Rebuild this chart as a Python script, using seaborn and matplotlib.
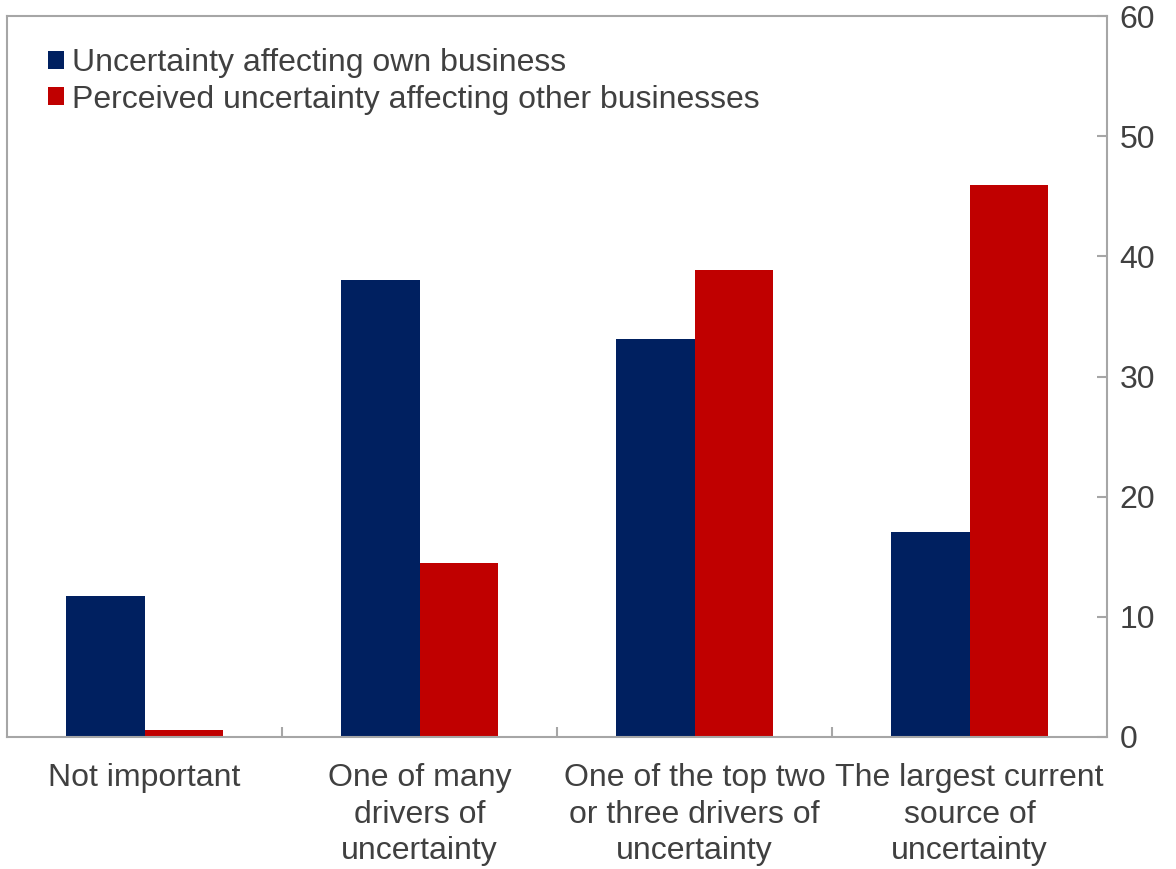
import matplotlib
matplotlib.use("Agg")
import matplotlib.pyplot as plt
import seaborn as sns
import pandas as pd

categories = [
    "Not important",
    "One of many\ndrivers of\nuncertainty",
    "One of the top two\nor three drivers of\nuncertainty",
    "The largest current\nsource of\nuncertainty",
]
series_names = [
    "Uncertainty affecting own business",
    "Perceived uncertainty affecting other businesses",
]
own_business = [11.7, 38.0, 33.1, 17.1]
other_businesses = [0.55, 14.5, 38.9, 45.9]
y_ticks = [0, 10, 20, 30, 40, 50, 60]

df = pd.DataFrame({
    "category": categories * 2,
    "series": [series_names[0]] * 4 + [series_names[1]] * 4,
    "value": own_business + other_businesses,
})

sns.set_style("white")
plt.rcParams["font.family"] = ["Liberation Sans", "DejaVu Sans"]

text_color = "#404040"
spine_color = "#A6A6A6"
font_size = 23

fig = plt.figure(figsize=(11.76, 8.69), dpi=100)
ax = fig.add_axes([7 / 1176, 1 - 737 / 869, 1100 / 1176, 721 / 869])

sns.barplot(
    data=df, x="category", y="value", hue="series",
    order=categories, hue_order=series_names,
    palette=["#002060", "#C00000"], width=0.57, gap=0,
    saturation=1, ax=ax, edgecolor="none",
)

ax.set_xlim(-0.5, 3.5)
ax.set_ylim(0, 60)
ax.set_xlabel("")
ax.set_ylabel("")

for side in ["left", "right", "top", "bottom"]:
    ax.spines[side].set_visible(True)
    ax.spines[side].set_color(spine_color)
    ax.spines[side].set_linewidth(1.5)

ax.yaxis.tick_right()
ax.set_yticks(y_ticks)
ax.set_yticklabels([str(v) for v in y_ticks])
ax.tick_params(axis="y", which="major", direction="in", length=7, width=1.5,
               color=spine_color, labelsize=font_size, labelcolor=text_color, pad=9,
               right=True, left=False)

ax.set_xticks(range(len(categories)))
ax.set_xticklabels(categories)
ax.set_xticks([0.5, 1.5, 2.5], minor=True)
ax.tick_params(axis="x", which="major", length=0, labelsize=font_size,
               labelcolor=text_color, pad=18.5)
ax.tick_params(axis="x", which="minor", direction="in", length=7, width=1.5,
               color=spine_color, bottom=True)
for lbl in ax.get_xticklabels():
    lbl.set_linespacing(1.3)

handles, labels = ax.get_legend_handles_labels()
ax.legend(
    handles, labels, loc="upper left", bbox_to_anchor=(0.02, 0.982),
    frameon=False, fontsize=font_size, labelcolor=text_color,
    handlelength=0.5, handleheight=0.5, handletextpad=0.25,
    labelspacing=0.2, borderaxespad=0.2,
)

fig.savefig("out.png", dpi=100, facecolor="white")
